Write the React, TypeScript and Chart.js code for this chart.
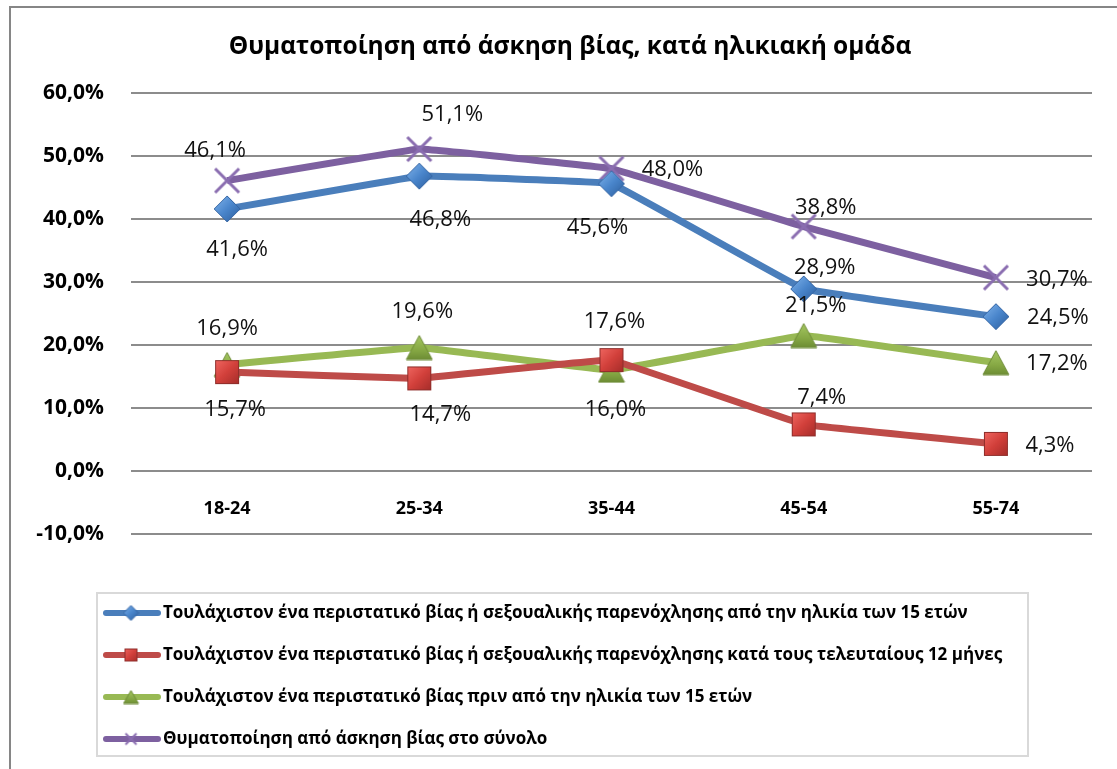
import React, { useEffect, useRef } from 'react';
import { Chart, registerables } from 'chart.js';

Chart.register(...registerables);

// ---- data ----
const categories = ['18-24', '25-34', '35-44', '45-54', '55-74'];
const since15Values = [41.6, 46.8, 45.6, 28.9, 24.5];
const last12Values = [15.7, 14.7, 17.6, 7.4, 4.3];
const before15Values = [16.9, 19.6, 16.0, 21.5, 17.2];
const totalValues = [46.1, 51.1, 48.0, 38.8, 30.7];
const seriesNames = [
  'Τουλάχιστον ένα περιστατικό βίας ή σεξουαλικής παρενόχλησης από την ηλικία των 15 ετών',
  'Τουλάχιστον ένα περιστατικό βίας ή σεξουαλικής παρενόχλησης κατά τους τελευταίους 12 μήνες',
  'Τουλάχιστον ένα περιστατικό βίας πριν από την ηλικία των 15 ετών',
  'Θυματοποίηση από άσκηση βίας στο σύνολο',
];
const chartTitle = 'Θυματοποίηση από άσκηση βίας, κατά ηλικιακή ομάδα';
const yMin = -10;
const yMax = 60;
const yStep = 10;

// label placement (pixel offsets of each value label from its point)
const since15LabelOffsets = [[10, 41], [21, 44], [-14, 44], [21, -21], [62, 1]];
const last12LabelOffsets = [[8, 38], [21, 36], [3, -38], [18, -27], [54, 2]];
const before15LabelOffsets = [[0, -36], [3, -36], [4, 40], [12, -30], [61, 1]];
const totalLabelOffsets = [[-12, -30], [33, -34], [61, 1], [22, -19], [61, 2]];

const fmt = (v: number) => v.toFixed(1).replace('.', ',') + '%';

function makeCanvas(w: number, h: number, draw: (ctx: CanvasRenderingContext2D) => void) {
  const c = document.createElement('canvas');
  c.width = w;
  c.height = h;
  const ctx = c.getContext('2d')!;
  draw(ctx);
  return c;
}

function diamond(s: number) {
  return makeCanvas(s, s, (ctx) => {
    const g = ctx.createLinearGradient(0, 0, s, s);
    g.addColorStop(0, '#86B8EE');
    g.addColorStop(0.5, '#4A86CC');
    g.addColorStop(1, '#2A5A98');
    ctx.beginPath();
    ctx.moveTo(s / 2, 1);
    ctx.lineTo(s - 1, s / 2);
    ctx.lineTo(s / 2, s - 1);
    ctx.lineTo(1, s / 2);
    ctx.closePath();
    ctx.fillStyle = g;
    ctx.fill();
    ctx.strokeStyle = '#3565A3';
    ctx.lineWidth = 1;
    ctx.stroke();
  });
}

function square(s: number) {
  return makeCanvas(s, s, (ctx) => {
    const g = ctx.createLinearGradient(0, 0, s, s);
    g.addColorStop(0, '#F26A64');
    g.addColorStop(0.5, '#D2403B');
    g.addColorStop(1, '#A02B28');
    ctx.fillStyle = g;
    ctx.fillRect(1, 1, s - 2, s - 2);
    ctx.strokeStyle = '#8E2D2A';
    ctx.lineWidth = 1;
    ctx.strokeRect(1.5, 1.5, s - 3, s - 3);
  });
}

function triangle(w: number, h: number) {
  return makeCanvas(w, h, (ctx) => {
    const g = ctx.createLinearGradient(0, 0, 0, h);
    g.addColorStop(0, '#A7C964');
    g.addColorStop(0.6, '#86A844');
    g.addColorStop(1, '#6A8A33');
    ctx.beginPath();
    ctx.moveTo(w / 2, 1);
    ctx.lineTo(w - 1, h - 1);
    ctx.lineTo(1, h - 1);
    ctx.closePath();
    ctx.fillStyle = g;
    ctx.fill();
    ctx.strokeStyle = '#6E8C38';
    ctx.lineWidth = 1;
    ctx.stroke();
  });
}

function cross(s: number, lw: number) {
  return makeCanvas(s, s, (ctx) => {
    ctx.strokeStyle = '#8A6DB0';
    ctx.lineWidth = lw;
    ctx.beginPath();
    ctx.moveTo(2, 2);
    ctx.lineTo(s - 2, s - 2);
    ctx.moveTo(s - 2, 2);
    ctx.lineTo(2, s - 2);
    ctx.stroke();
  });
}

export default function App() {
  const ref = useRef<HTMLCanvasElement | null>(null);

  useEffect(() => {
    const canvas = ref.current;
    if (!canvas) return;

    const seriesValues = [since15Values, last12Values, before15Values, totalValues];
    const seriesOffsets = [since15LabelOffsets, last12LabelOffsets, before15LabelOffsets, totalLabelOffsets];
    const lineColors = ['#4A7EBB', '#BE4B48', '#98B954', '#7D60A0'];
    const markers = [diamond(28), square(26), triangle(28, 26), cross(28, 3)];
    const legendMarkers = [diamond(17), square(15), triangle(17, 15), cross(15, 2)];

    const framePlugin = {
      id: 'frame',
      beforeDraw(chart: any) {
        const { ctx, width, height } = chart;
        ctx.save();
        ctx.fillStyle = '#ffffff';
        ctx.fillRect(0, 0, width, height);
        ctx.strokeStyle = '#868686';
        ctx.lineWidth = 2;
        ctx.beginPath();
        ctx.moveTo(10, height);
        ctx.lineTo(10, 7);
        ctx.lineTo(width, 7);
        ctx.stroke();
        ctx.font = 'bold 24.5px "Open Sans"';
        ctx.fillStyle = '#000000';
        ctx.textAlign = 'center';
        ctx.textBaseline = 'middle';
        ctx.fillText(chartTitle, 570, 47);
        ctx.restore();
      },
    };

    const labelsPlugin = {
      id: 'valueLabels',
      afterDatasetsDraw(chart: any) {
        const { ctx } = chart;
        ctx.save();
        ctx.font = '22px "Open Sans"';
        ctx.fillStyle = '#111111';
        ctx.textAlign = 'center';
        ctx.textBaseline = 'middle';
        chart.data.datasets.forEach((ds: any, di: number) => {
          const meta = chart.getDatasetMeta(di);
          meta.data.forEach((pt: any, i: number) => {
            const off = seriesOffsets[di][i];
            ctx.fillText(fmt(ds.data[i]), pt.x + off[0], pt.y + off[1]);
          });
        });
        ctx.restore();
      },
    };

    const legendPlugin = {
      id: 'boxLegend',
      afterDraw(chart: any) {
        const { ctx } = chart;
        ctx.save();
        ctx.strokeStyle = '#D9D9D9';
        ctx.lineWidth = 2;
        ctx.strokeRect(97, 593, 931, 163);
        seriesNames.forEach((name, i) => {
          const y = 613 + i * 42;
          ctx.strokeStyle = lineColors[i];
          ctx.lineWidth = 6;
          ctx.lineCap = 'round';
          ctx.beginPath();
          ctx.moveTo(106, y);
          ctx.lineTo(158, y);
          ctx.stroke();
          const m = legendMarkers[i];
          ctx.drawImage(m, 131 - m.width / 2, y - m.height / 2);
          ctx.font = 'bold 17px "Open Sans"';
          ctx.fillStyle = '#000000';
          ctx.textAlign = 'left';
          ctx.textBaseline = 'middle';
          ctx.fillText(name, 163, y);
        });
        ctx.restore();
      },
    };

    const chart = new Chart(canvas, {
      type: 'line',
      data: {
        labels: categories,
        datasets: seriesValues.map((vals, i) => ({
          label: seriesNames[i],
          data: vals,
          borderColor: lineColors[i],
          backgroundColor: lineColors[i],
          borderWidth: 7,
          tension: 0.04,
          pointStyle: markers[i] as any,
          pointRadius: 12,
          pointHoverRadius: 12,
          fill: false,
        })),
      },
      options: {
        responsive: false,
        animation: false,
        events: [],
        layout: { padding: { left: 0, right: 25, top: 93, bottom: 235 } },
        plugins: {
          legend: { display: false },
          tooltip: { enabled: false },
          title: { display: false },
        },
        scales: {
          x: {
            position: { y: 0 } as any,
            offset: true,
            grid: { display: false, drawTicks: true, tickLength: 27 },
            border: { display: false },
            ticks: {
              padding: 0,
              color: '#000000',
              font: { family: '"Open Sans"', size: 18, weight: 'bold' },
              maxRotation: 0,
            },
          },
          y: {
            min: yMin,
            max: yMax,
            afterFit(scale: any) {
              scale.width = 131;
            },
            grid: { color: '#8C8C8C', lineWidth: 2, drawTicks: false },
            border: { display: false },
            ticks: {
              stepSize: yStep,
              padding: 27,
              color: '#000000',
              font: { family: '"Open Sans"', size: 21, weight: 'bold' },
              callback: (v: any) => fmt(Number(v)),
            },
          },
        },
      },
      plugins: [framePlugin, labelsPlugin, legendPlugin],
    });

    return () => chart.destroy();
  }, []);

  return (
    <div style={{ position: 'absolute', left: 0, top: 0, width: 1117, height: 769, background: '#fff' }}>
      <canvas ref={ref} width={1117} height={769} style={{ display: 'block', width: 1117, height: 769 }} />
    </div>
  );
}
